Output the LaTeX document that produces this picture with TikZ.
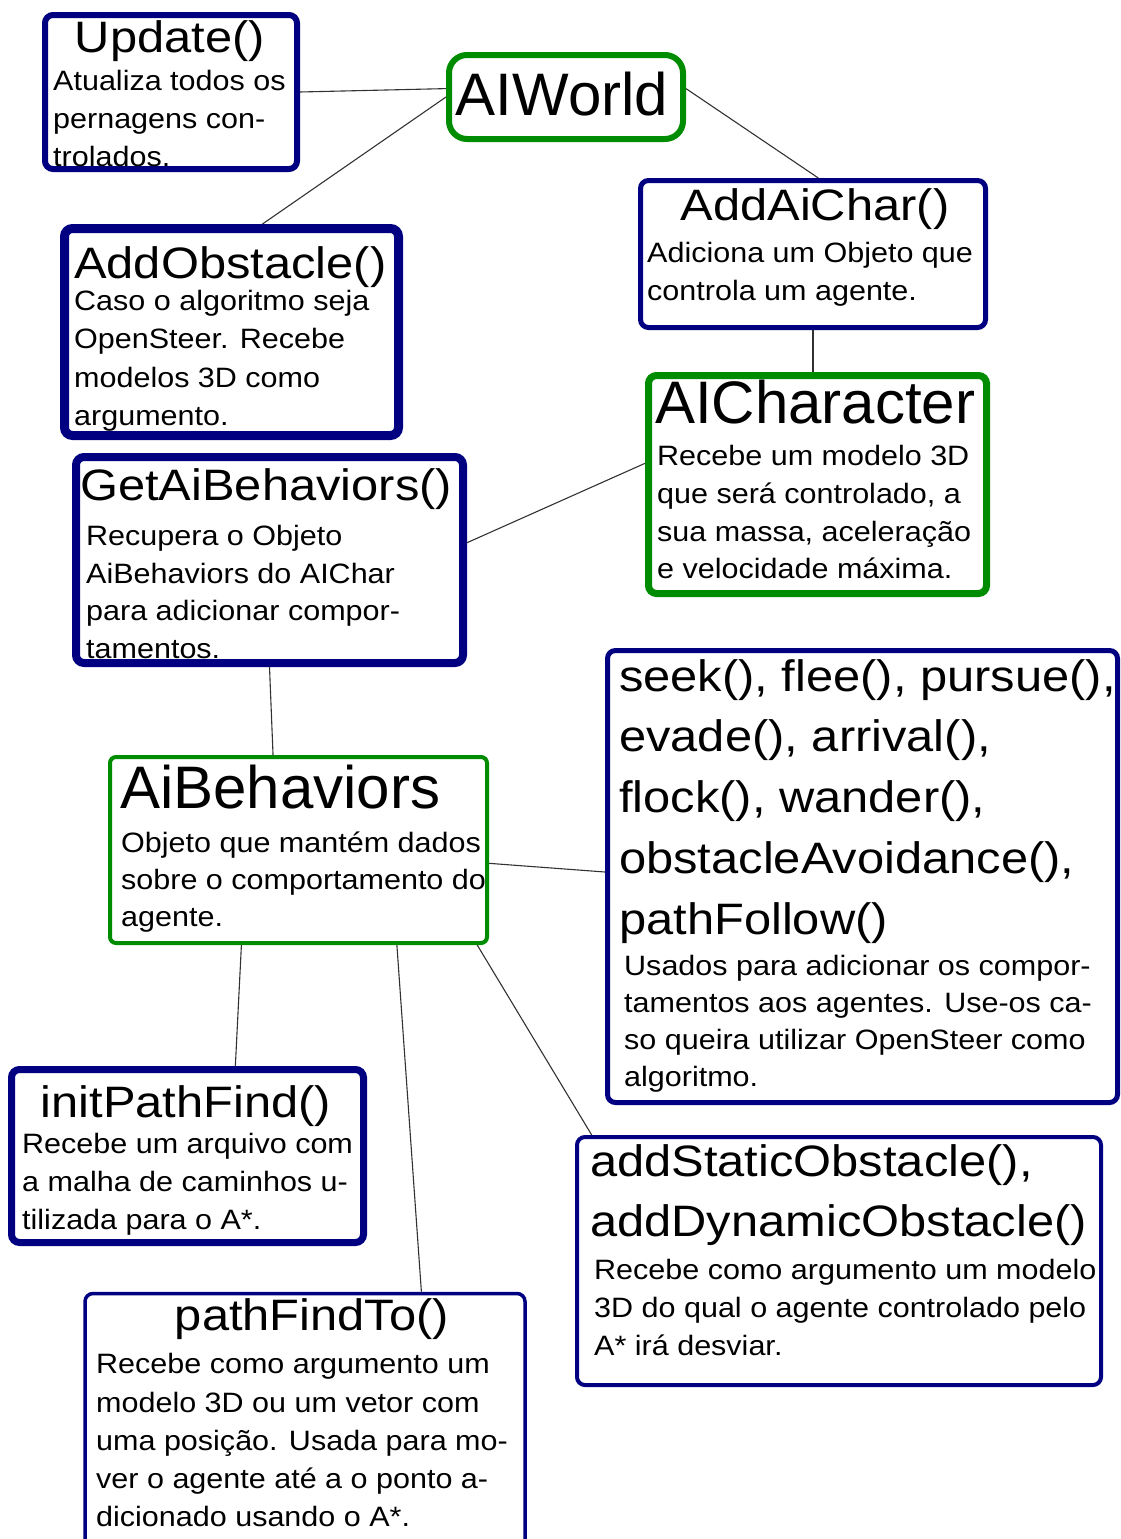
\documentclass[tikz,border=0pt]{standalone}
\usepackage{fontspec}
\setmainfont{Liberation Sans}[FakeStretch=1.09]
\newfontfamily\bigfont{Liberation Sans}
\newfontfamily\titlefont{Liberation Sans}[FakeStretch=1.11]
\definecolor{navy}{RGB}{0,0,128}
\definecolor{grn}{RGB}{0,140,0}
\definecolor{linkc}{RGB}{50,50,50}
\begin{document}
\begin{tikzpicture}[x=1pt,y=-1pt,
  nbox/.style={draw=navy, fill=white, rounded corners=8pt, inner sep=0pt},
  gbox/.style={draw=grn, fill=white, rounded corners=8pt, inner sep=0pt},
  body/.style={font=\fontsize{28}{34}\selectfont, anchor=base west, inner sep=0pt},
  ttl/.style={font=\titlefont\fontsize{44}{52}\selectfont, anchor=base, inner sep=0pt},
  big/.style={font=\bigfont\fontsize{60}{70}\selectfont, anchor=base west, inner sep=0pt},
  link/.style={draw=linkc, line width=1.1pt}]
\useasboundingbox (0,0) rectangle (1121,1539);
\clip (0,0) rectangle (1121,1539);

% boxes
\node[nbox, line width=6pt, minimum width=252pt, minimum height=154pt] (upd) at (171,92) {};
\node[gbox, line width=6pt, rounded corners=18pt, minimum width=234pt, minimum height=84pt] (aiw) at (566,97) {};
\node[nbox, line width=9pt, minimum width=334pt, minimum height=207pt] (aob) at (231.5,332) {};
\node[nbox, line width=5pt, minimum width=345pt, minimum height=147pt] (aac) at (813,254) {};
\node[gbox, line width=7pt, minimum width=338pt, minimum height=218pt] (aic) at (817.5,484.5) {};
\node[nbox, line width=8pt, minimum width=387pt, minimum height=206pt] (gab) at (269.5,560) {};
\node[gbox, line width=4pt, rounded corners=6pt, minimum width=377pt, minimum height=186pt] (aib) at (298.5,850) {};
\node[nbox, line width=5pt, minimum width=510pt, minimum height=452pt] (skb) at (862.5,876.5) {};
\node[nbox, line width=4pt, minimum width=524pt, minimum height=248pt] (asb) at (839,1261) {};
\node[nbox, line width=7pt, minimum width=352pt, minimum height=173pt] (ipf) at (187.5,1156) {};
\node[nbox, line width=3.5pt, minimum width=440pt, minimum height=255pt] (pft) at (305,1421) {};

% Update()
\node[ttl] (updt) at (170,52) {Update()};
\node[body] (upd1) at (53,90) {Atualiza todos os};
\node[body] (upd2) at (53,128) {pernagens con-};
\node[body] (upd3) at (53,166) {trolados.};

% AIWorld
\node[big, anchor=base] (aiwt) at (562,115) {AIWorld};

% AddObstacle()
\node[ttl, anchor=base west] (aobt) at (74,278) {AddObstacle()};
\node[body] (aob1) at (74,310) {Caso o algoritmo seja};
\node[body] (aob2) at (74,348) {OpenSteer. Recebe};
\node[body] (aob3) at (74,387) {modelos 3D como};
\node[body] (aob4) at (74,425) {argumento.};

% AddAiChar()
\node[ttl] (aact) at (815,220) {AddAiChar()};
\node[body] (aac1) at (647,262) {Adiciona um Objeto que};
\node[body] (aac2) at (647,300) {controla um agente.};

% AICharacter
\node[big] (aict) at (655,423) {AICharacter};
\node[body] (aic1) at (657,465) {Recebe um modelo 3D};
\node[body] (aic2) at (657,503) {que será controlado, a};
\node[body] (aic3) at (657,541) {sua massa, aceleração};
\node[body] (aic4) at (657,578) {e velocidade máxima.};

% GetAiBehaviors()
\node[ttl, anchor=base west] (gabt) at (80,500) {GetAiBehaviors()};
\node[body] (gab1) at (86,545) {Recupera o Objeto};
\node[body] (gab2) at (86,583) {AiBehaviors do AIChar};
\node[body] (gab3) at (86,620) {para adicionar compor-};
\node[body] (gab4) at (86,658) {tamentos.};

% AiBehaviors
\node[big] (aibt) at (120,808) {AiBehaviors};
\node[body] (aib1) at (121,852) {Objeto que mantém dados};
\node[body] (aib2) at (121,889) {sobre o comportamento do};
\node[body] (aib3) at (121,926) {agente.};

% seek box
\node[ttl, anchor=base west] (skt1) at (619,691) {seek(), flee(), pursue(),};
\node[ttl, anchor=base west] (skt2) at (619,751) {evade(), arrival(),};
\node[ttl, anchor=base west] (skt3) at (619,812) {flock(), wander(),};
\node[ttl, anchor=base west] (skt4) at (619,873) {obstacleAvoidance(),};
\node[ttl, anchor=base west] (skt5) at (619,934) {pathFollow()};
\node[body] (skb1) at (624,975) {Usados para adicionar os compor-};
\node[body] (skb2) at (624,1012) {tamentos aos agentes. Use-os ca-};
\node[body] (skb3) at (624,1049) {so queira utilizar OpenSteer como};
\node[body] (skb4) at (624,1086) {algoritmo.};

% addStatic box
\node[ttl, anchor=base west] (ast1) at (590,1176) {addStaticObstacle(),};
\node[ttl, anchor=base west] (ast2) at (590,1236) {addDynamicObstacle()};
\node[body] (asb1) at (594,1279) {Recebe como argumento um modelo};
\node[body] (asb2) at (594,1317) {3D do qual o agente controlado pelo};
\node[body] (asb3) at (594,1355) {A* irá desviar.};

% initPathFind()
\node[ttl] (ipft) at (186,1117) {initPathFind()};
\node[body] (ipf1) at (22,1153) {Recebe um arquivo com};
\node[body] (ipf2) at (22,1191) {a malha de caminhos u-};
\node[body] (ipf3) at (22,1229) {tilizada para o A*.};

% pathFindTo()
\node[ttl] (pftt) at (312,1330) {pathFindTo()};
\node[body] (pft1) at (96,1373) {Recebe como argumento um};
\node[body] (pft2) at (96,1412) {modelo 3D ou um vetor com};
\node[body] (pft3) at (96,1450) {uma posição. Usada para mo-};
\node[body] (pft4) at (96,1488) {ver o agente até a o ponto a-};
\node[body] (pft5) at (96,1526) {dicionado usando o A*.};

% connectors
\draw[link] (upd.east) -- (aiw.176);
\draw[link] (aiw.west) -- (aob.74);
\draw[link] (aiw.4) -- (aac.86);
\draw[link] (aac.south) -- (aac.south |- aic.north);
\draw[link] (aic.173) -- (gab.5);
\draw[link] (gab.south) -- (aib.105);
\draw[link] (aib.-4) -- (skb.179);
\draw[link] (aib.239) -- (ipf.62);
\draw[link] (aib.-44) -- (pft.48);
\draw[link] (aib.-28) -- (asb.153);
\end{tikzpicture}
\end{document}
